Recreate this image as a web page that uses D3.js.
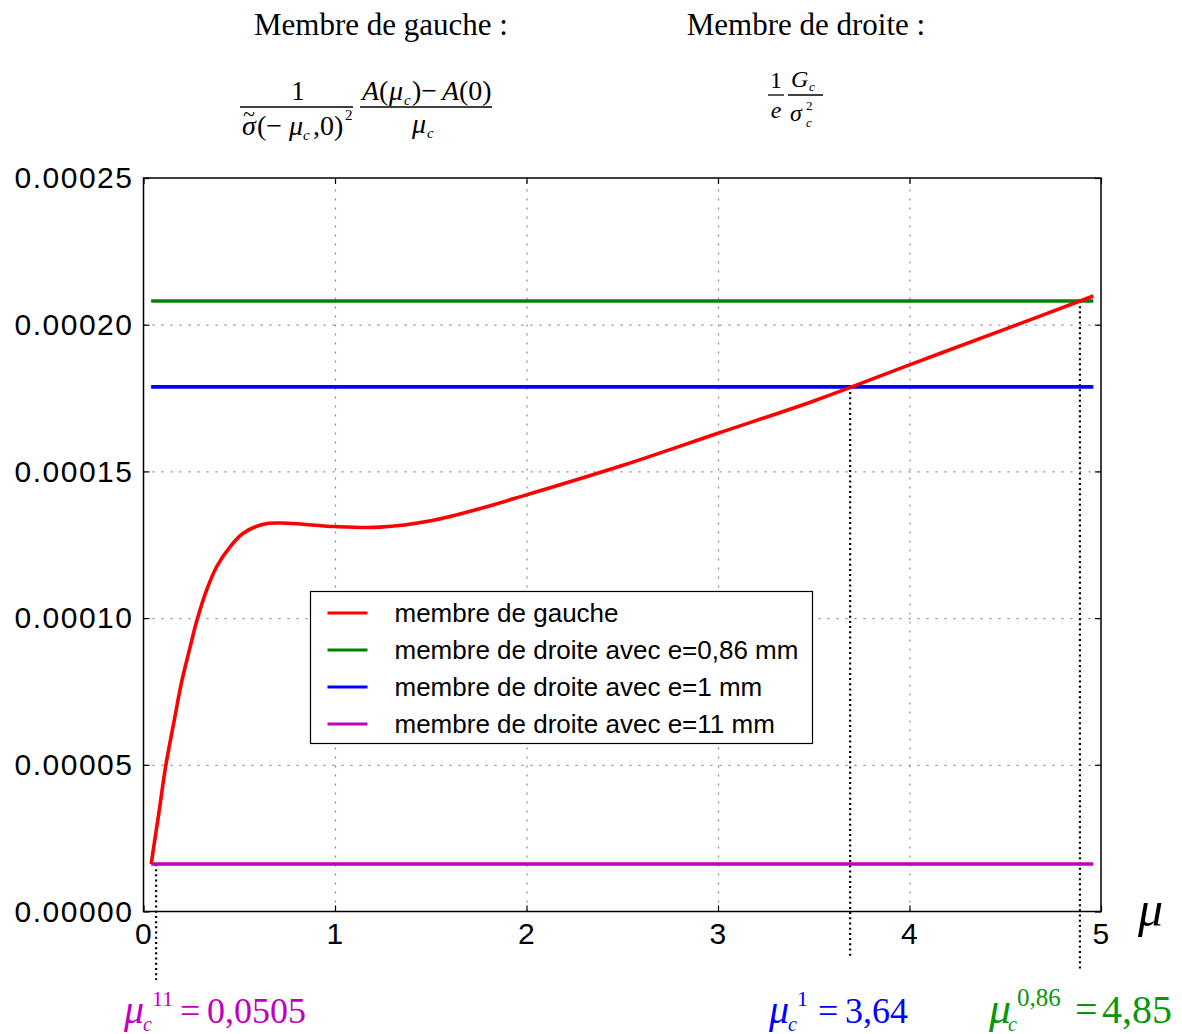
<!DOCTYPE html>
<html>
<head>
<meta charset="utf-8">
<script src="https://cdn.jsdelivr.net/npm/d3@7"></script>
<style>
  body { margin: 0; background: #fff; }
  svg { display: block; }
</style>
</head>
<body>
<svg width="1182" height="1034"></svg>
<script>
// values
const muValues = [0.04, 0.08, 0.117, 0.16, 0.2, 0.243, 0.278, 0.33, 0.382, 0.452, 0.521, 0.626,
  0.713, 0.834, 1.0, 1.235, 1.5, 1.75, 2.0, 2.5, 3.0, 3.5, 4.0, 4.5, 4.96];
const gaucheValues = [1.62, 3.35, 5.0, 6.5, 7.85, 9.0, 9.9, 10.96, 11.75, 12.43, 12.89, 13.2,
  13.24, 13.2, 13.12, 13.1, 13.32, 13.72, 14.2, 15.2, 16.3, 17.4, 18.63, 19.85, 20.98].map((v) => v * 1e-5);

const droiteLabels = ['membre de droite avec e=0,86 mm', 'membre de droite avec e=1 mm', 'membre de droite avec e=11 mm'];
const droiteValues = [20.81e-5, 17.88e-5, 1.62e-5];
const droiteColors = ['#008000', '#0000ff', '#bf00bf'];

const xTicks = [0, 1, 2, 3, 4, 5];
const yTicks = [0, 0.00005, 0.0001, 0.00015, 0.0002, 0.00025];

// where the dotted markers sit on the plot, and their captions
const crossX = [0.066, 3.69, 4.89];
const crossY = [1.62e-5, 17.88e-5, 20.81e-5];
const crossSup = ['11', '1', '0,86'];
const crossVal = ['0,0505', '3,64', '4,85'];
const crossColors = ['#c000c0', '#0000ff', '#0a960a'];

const svg = d3.select('svg');
const width = +svg.attr('width');
const height = +svg.attr('height');

const margin = { left: 143.5, right: 81, top: 178, bottom: 122.5 };
const innerWidth = width - margin.left - margin.right;
const innerHeight = height - margin.top - margin.bottom;

const xScale = d3.scaleLinear().domain([0, 5]).range([0, innerWidth]);
const yScale = d3.scaleLinear().domain([0, 0.00025]).range([innerHeight, 0]);

svg.append('rect').attr('width', width).attr('height', height).attr('fill', '#fff');

const g = svg.append('g').attr('transform', `translate(${margin.left}, ${margin.top})`);

// grid
const gridX = g.append('g')
  .attr('transform', `translate(0, ${innerHeight})`)
  .call(d3.axisBottom(xScale).tickValues([1, 2, 3, 4]).tickSize(-innerHeight).tickFormat(''));
const gridY = g.append('g')
  .call(d3.axisLeft(yScale).tickValues([0.00005, 0.0001, 0.00015, 0.0002]).tickSize(-innerWidth).tickFormat(''));
[gridX, gridY].forEach((s) => {
  s.select('.domain').remove();
  s.selectAll('text').remove();
  s.selectAll('line').attr('stroke', '#888').attr('stroke-width', 1.2).attr('stroke-dasharray', '2,7');
});

// axes, ticks pointing inward
const xAxis = g.append('g')
  .attr('transform', `translate(0, ${innerHeight})`)
  .call(d3.axisBottom(xScale).tickValues(xTicks).tickSize(-6).tickPadding(11).tickFormat(d3.format('d')));
const yAxis = g.append('g')
  .call(d3.axisLeft(yScale).tickValues(yTicks).tickSize(-6).tickPadding(10).tickFormat(d3.format('.5f')));
const topAxis = g.append('g')
  .call(d3.axisTop(xScale).tickValues(xTicks).tickSize(-6).tickFormat(''));
const rightAxis = g.append('g')
  .attr('transform', `translate(${innerWidth}, 0)`)
  .call(d3.axisRight(yScale).tickValues(yTicks).tickSize(-6).tickFormat(''));
[topAxis, rightAxis].forEach((s) => s.selectAll('text').remove());
[xAxis, yAxis, topAxis, rightAxis].forEach((s) => {
  s.select('.domain').remove();
  s.selectAll('line').attr('stroke', '#000').attr('stroke-width', 1.2);
  s.selectAll('text')
    .attr('fill', '#000')
    .style('font-family', '"Liberation Sans", Arial, sans-serif')
    .style('font-size', '30px')
    .style('letter-spacing', '1.5px');
});

// dotted markers under the crossings
const markerEnd = [802, 779, 792];
g.selectAll('.marker')
  .data(crossX)
  .enter()
  .append('line')
  .attr('x1', (d) => xScale(d))
  .attr('x2', (d) => xScale(d))
  .attr('y1', (d, i) => yScale(crossY[i]))
  .attr('y2', (d, i) => markerEnd[i])
  .attr('stroke', '#000')
  .attr('stroke-width', 2.2)
  .attr('stroke-dasharray', '2,3.2');

// horizontal members (right side)
g.selectAll('.droite')
  .data(droiteValues)
  .enter()
  .append('line')
  .attr('x1', xScale(muValues[0]))
  .attr('x2', xScale(muValues[muValues.length - 1]))
  .attr('y1', (d) => yScale(d))
  .attr('y2', (d) => yScale(d))
  .attr('stroke', (d, i) => droiteColors[i])
  .attr('stroke-width', 3.6);

// left member curve
const line = d3.line()
  .x((d, i) => xScale(muValues[i]))
  .y((d) => yScale(d))
  .curve(d3.curveCatmullRom.alpha(0.5));
g.append('path')
  .datum(gaucheValues)
  .attr('d', line)
  .attr('fill', 'none')
  .attr('stroke', '#ff0000')
  .attr('stroke-width', 3.6);

// frame
g.append('rect')
  .attr('width', innerWidth)
  .attr('height', innerHeight)
  .attr('fill', 'none')
  .attr('stroke', '#000')
  .attr('stroke-width', 1.5);

// legend
const legendItems = ['membre de gauche'].concat(droiteLabels);
const legendColors = ['#ff0000'].concat(droiteColors);
const legend = svg.append('g').attr('transform', 'translate(310.5, 591.5)');
legend.append('rect')
  .attr('width', 502)
  .attr('height', 152)
  .attr('fill', '#fff')
  .attr('stroke', '#000')
  .attr('stroke-width', 1.2);
const rows = legend.selectAll('.row')
  .data(legendItems)
  .enter()
  .append('g')
  .attr('transform', (d, i) => `translate(0, ${21.5 + i * 37})`);
rows.append('line')
  .attr('x1', 17).attr('x2', 57)
  .attr('stroke', (d, i) => legendColors[i])
  .attr('stroke-width', 3);
rows.append('text')
  .attr('x', 84)
  .attr('y', 9)
  .style('font-family', '"Liberation Sans", Arial, sans-serif')
  .style('font-size', '26px')
  .text((d) => d);

// axis name
svg.append('text')
  .attr('x', 1138).attr('y', 926)
  .style('font-family', '"Liberation Serif", serif')
  .style('font-style', 'italic')
  .style('font-size', '50px')
  .text('μ');

// headings and formulas
const serif = '"Liberation Serif", "DejaVu Serif", serif';
const txt = (x, y, s, size, opts = {}) => svg.append('text')
  .attr('x', x).attr('y', y)
  .attr('text-anchor', opts.anchor || 'start')
  .attr('fill', opts.color || '#000')
  .style('font-family', serif)
  .style('font-size', size + 'px')
  .style('font-style', opts.italic ? 'italic' : 'normal')
  .text(s);
const bar = (x1, x2, y) => svg.append('line')
  .attr('x1', x1).attr('x2', x2).attr('y1', y).attr('y2', y)
  .attr('stroke', '#000').attr('stroke-width', 1.3);

txt(381, 35, 'Membre de gauche :', 31, { anchor: 'middle' });
txt(806, 35, 'Membre de droite :', 31, { anchor: 'middle' });

// left formula
txt(298, 100, '1', 27, { anchor: 'middle' });
bar(240, 353, 107);
txt(242, 135, 'σ', 28, { italic: true });
txt(243, 121, '~', 22);
txt(257, 135, '(−', 28);
txt(289, 135, 'μ', 28, { italic: true });
txt(303, 140, 'c', 15, { italic: true });
txt(313, 135, ',0)', 28);
txt(345, 120, '2', 15);
txt(362, 100, 'A', 28, { italic: true });
txt(379, 100, '(', 28);
txt(389, 100, 'μ', 28, { italic: true });
txt(404, 105, 'c', 15, { italic: true });
txt(412, 100, ')−', 28);
txt(442, 100, 'A', 28, { italic: true });
txt(459, 100, '(0)', 28);
bar(360, 492, 107);
txt(412, 133, 'μ', 28, { italic: true });
txt(427, 138, 'c', 15, { italic: true });

// right formula
txt(776, 88, '1', 24, { anchor: 'middle' });
bar(768, 784, 95);
txt(776, 118, 'e', 24, { anchor: 'middle', italic: true });
txt(791, 87, 'G', 24, { italic: true });
txt(809, 91, 'c', 13, { italic: true });
bar(788, 823, 95);
txt(790, 121, 'σ', 24, { italic: true });
txt(806, 110, '2', 13);
txt(806, 127, 'c', 13, { italic: true });

// crossing captions
const capX = [124, 769, 989];
const eqX = [180, 818, 1075];
const capSize = [36, 36, 40];
crossX.forEach((d, i) => {
  const color = crossColors[i];
  const s = capSize[i];
  txt(capX[i], 1023, 'μ', s + 4, { italic: true, color });
  txt(capX[i] + 19, 1031, 'c', 20, { italic: true, color });
  txt(capX[i] + 28, 1006, crossSup[i], i === 2 ? 25 : 22, { color });
  txt(eqX[i], 1023, '=', s, { color });
  txt(eqX[i] + 27, 1023, crossVal[i], s, { color });
});
</script>
</body>
</html>
